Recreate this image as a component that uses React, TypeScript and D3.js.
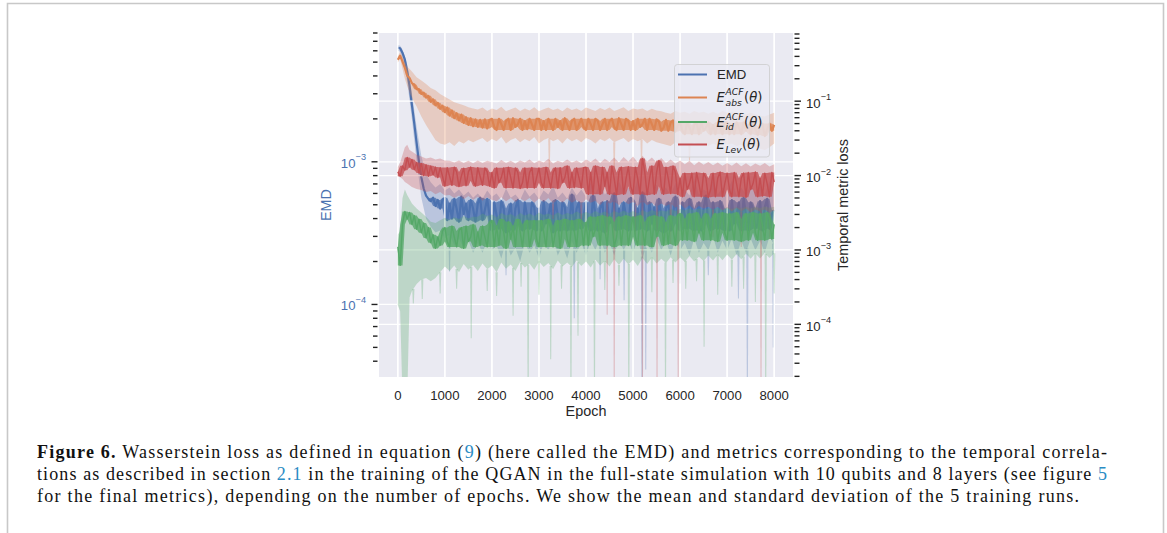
import React from 'react';
import * as d3 from 'd3';

// ---------- data ----------
// sampling grid of the std bands
const epochs = [
  0, 50, 100, 150, 200, 250, 300, 400, 500, 600,
  700, 800, 900, 1000, 1100, 1200, 1300, 1400, 1500, 1600,
  1700, 1800, 1900, 2000, 2100, 2200, 2300, 2400, 2500, 2600,
  2700, 2800, 2900, 3000, 3100, 3200, 3300, 3400, 3500, 3600,
  3700, 3800, 3900, 4000, 4100, 4200, 4300, 4400, 4500, 4600,
  4700, 4800, 4900, 5000, 5100, 5200, 5300, 5400, 5500, 5600,
  5700, 5800, 5900, 6000, 6100, 6200, 6300, 6400, 6500, 6600,
  6700, 6800, 6900, 7000, 7100, 7200, 7300, 7400, 7500, 7600,
  7700, 7800, 7900, 8000,
];
// sampling grid of the (noisy) mean traces
const traceEpochs = [
  0, 50, 100, 150, 200, 250, 300, 350, 400, 450, 500, 550, 600, 650, 700, 750, 800, 850, 900, 950,
  1000, 1050, 1100, 1150, 1200, 1250, 1300, 1350, 1400, 1450, 1500, 1550, 1600, 1650, 1700, 1750, 1800, 1850, 1900, 1950,
  2000, 2050, 2100, 2150, 2200, 2250, 2300, 2350, 2400, 2450, 2500, 2550, 2600, 2650, 2700, 2750, 2800, 2850, 2900, 2950,
  3000, 3050, 3100, 3150, 3200, 3250, 3300, 3350, 3400, 3450, 3500, 3550, 3600, 3650, 3700, 3750, 3800, 3850, 3900, 3950,
  4000, 4050, 4100, 4150, 4200, 4250, 4300, 4350, 4400, 4450, 4500, 4550, 4600, 4650, 4700, 4750, 4800, 4850, 4900, 4950,
  5000, 5050, 5100, 5150, 5200, 5250, 5300, 5350, 5400, 5450, 5500, 5550, 5600, 5650, 5700, 5750, 5800, 5850, 5900, 5950,
  6000, 6050, 6100, 6150, 6200, 6250, 6300, 6350, 6400, 6450, 6500, 6550, 6600, 6650, 6700, 6750, 6800, 6850, 6900, 6950,
  7000, 7050, 7100, 7150, 7200, 7250, 7300, 7350, 7400, 7450, 7500, 7550, 7600, 7650, 7700, 7750, 7800, 7850, 7900, 7950,
  8000,
];

// ----- EMD (left axis) -----
const emdTrace = [
  6.3e-3, 6.25e-3, 5.8e-3, 5.2e-3, 4.3e-3, 3.4e-3, 2.5e-3, 1.85e-3, 1.35e-3, 1.0e-3, 7.8e-4, 6.5e-4, 5.8e-4, 5.5e-4, 5.3e-4, 5.6e-4, 4.9e-4, 5.4e-4, 4.7e-4, 5.4e-4,
  5.6e-4, 3.9e-4, 5.1e-4, 4.0e-4, 5.5e-4, 4.7e-4, 3.8e-4, 5.7e-4, 4.3e-4, 5.1e-4, 3.9e-4, 5.4e-4, 4.7e-4, 3.8e-4, 5.1e-4, 5.6e-4, 3.9e-4, 4.6e-4, 5.5e-4, 4.2e-4,
  3.3e-4, 5.2e-4, 4.2e-4, 3.4e-4, 5.3e-4, 4.7e-4, 3.2e-4, 4.2e-4, 5.1e-4, 3.3e-4, 4.7e-4, 5.4e-4, 3.7e-4, 3.3e-4, 5.2e-4, 4.1e-4, 3.4e-4, 5.2e-4, 4.8e-4, 3.3e-4,
  4.7e-4, 3.3e-4, 5.3e-4, 3.7e-4, 4.2e-4, 5.1e-4, 3.2e-4, 5.4e-4, 4.2e-4, 3.3e-4, 5.2e-4, 4.8e-4, 3.3e-4, 3.7e-4, 5.9e-4, 3.3e-4, 4.7e-4, 5.2e-4, 3.4e-4, 4.2e-4,
  5.2e-4, 3.7e-4, 3.3e-4, 5.8e-4, 4.2e-4, 3.3e-4, 4.7e-4, 5.2e-4, 3.2e-4, 5.3e-4, 3.7e-4, 4.2e-4, 6.0e-4, 3.3e-4, 4.7e-4, 3.4e-4, 5.2e-4, 4.2e-4, 3.3e-4, 5.6e-4,
  5.3e-4, 3.3e-4, 4.7e-4, 3.4e-4, 6.1e-4, 4.2e-4, 3.3e-4, 5.2e-4, 3.7e-4, 4.8e-4, 3.3e-4, 5.5e-4, 4.2e-4, 3.2e-4, 4.7e-4, 5.2e-4, 3.3e-4, 4.2e-4, 5.7e-4, 3.7e-4,
  3.3e-4, 5.2e-4, 4.2e-4, 3.4e-4, 5.5e-4, 4.7e-4, 3.3e-4, 4.2e-4, 5.2e-4, 3.3e-4, 4.7e-4, 5.8e-4, 3.7e-4, 3.3e-4, 5.2e-4, 4.2e-4, 3.4e-4, 5.3e-4, 4.7e-4, 3.3e-4,
  4.7e-4, 3.3e-4, 5.4e-4, 3.7e-4, 4.2e-4, 5.2e-4, 3.3e-4, 5.6e-4, 4.2e-4, 3.3e-4, 5.2e-4, 4.7e-4, 3.4e-4, 3.7e-4, 5.3e-4, 3.3e-4, 4.8e-4, 5.5e-4, 3.4e-4, 4.3e-4,
  4.6e-4,
];
const emdHi = [
  6.6e-3, 6.5e-3, 6.1e-3, 5.5e-3, 4.8e-3, 3.9e-3, 3.0e-3, 1.75e-3, 1.1e-3, 8.2e-4,
  7.2e-4, 6.6e-4, 7.0e-4, 6.3e-4, 6.6e-4, 6.0e-4, 6.4e-4, 5.8e-4, 6.2e-4, 5.6e-4,
  6.0e-4, 5.5e-4, 6.3e-4, 5.7e-4, 6.0e-4, 5.4e-4, 6.5e-4, 5.6e-4, 5.9e-4, 5.4e-4,
  6.4e-4, 5.7e-4, 6.1e-4, 5.5e-4, 6.3e-4, 5.9e-4, 6.8e-4, 5.6e-4, 6.1e-4, 5.5e-4,
  6.6e-4, 5.8e-4, 6.4e-4, 5.7e-4, 7.2e-4, 6.0e-4, 7.0e-4, 5.9e-4, 6.4e-4, 5.7e-4,
  7.3e-4, 6.1e-4, 6.6e-4, 5.9e-4, 7.6e-4, 5.6e-4, 6.4e-4, 5.9e-4, 6.9e-4, 6.1e-4,
  6.6e-4, 5.8e-4, 7.1e-4, 6.1e-4, 6.4e-4, 5.8e-4, 7.6e-4, 5.9e-4, 6.4e-4, 6.1e-4,
  7.5e-4, 5.9e-4, 6.6e-4, 6.1e-4, 7.4e-4, 5.8e-4, 6.6e-4, 5.9e-4, 6.9e-4, 6.1e-4,
  6.8e-4, 5.9e-4, 7.3e-4, 6.4e-4,
];
const emdLo = [
  6.0e-3, 5.9e-3, 5.3e-3, 4.5e-3, 3.6e-3, 2.7e-3, 2.0e-3, 1.0e-3, 5.6e-4, 4.0e-4,
  3.5e-4, 3.2e-4, 3.3e-4, 2.9e-4, 3.1e-4, 2.6e-4, 2.9e-4, 2.5e-4, 2.8e-4, 2.3e-4,
  2.7e-4, 2.3e-4, 2.8e-4, 2.4e-4, 2.6e-4, 2.1e-4, 2.8e-4, 2.2e-4, 2.5e-4, 2.0e-4,
  2.7e-4, 2.3e-4, 2.6e-4, 2.1e-4, 2.7e-4, 2.4e-4, 2.9e-4, 2.2e-4, 2.6e-4, 2.1e-4,
  2.8e-4, 2.3e-4, 2.7e-4, 2.2e-4, 2.8e-4, 2.4e-4, 3.0e-4, 2.3e-4, 2.7e-4, 2.2e-4,
  2.9e-4, 2.4e-4, 2.8e-4, 2.3e-4, 2.9e-4, 2.1e-4, 2.7e-4, 2.3e-4, 2.9e-4, 2.4e-4,
  2.8e-4, 2.2e-4, 2.9e-4, 2.4e-4, 2.7e-4, 2.2e-4, 2.9e-4, 2.3e-4, 2.7e-4, 2.4e-4,
  3.0e-4, 2.3e-4, 2.8e-4, 2.4e-4, 2.9e-4, 2.2e-4, 2.8e-4, 2.3e-4, 2.9e-4, 2.4e-4,
  2.8e-4, 2.3e-4, 3.0e-4, 2.6e-4,
];
const emdSpikes = [
  [1100, 1.7e-4], [2300, 1.6e-4], [3750, 8e-5], [4300, 1.5e-4], [4810, 1.07e-4],
  [5190, 1e-6], [5270, 3.5e-5], [6000, 1.4e-4], [6600, 1.6e-4], [7240, 1.1e-4],
  [7430, 1e-6], [7980, 5e-5],
];

// ----- E_abs^ACF (right axis) -----
const absTrace = [
  0.36, 0.41, 0.34, 0.28, 0.22, 0.205, 0.175, 0.165, 0.145, 0.145, 0.125, 0.13, 0.112, 0.118, 0.098, 0.106, 0.088, 0.095, 0.079, 0.087,
  0.071, 0.082, 0.064, 0.075, 0.059, 0.069, 0.055, 0.066, 0.051, 0.061, 0.048, 0.059, 0.046, 0.057, 0.045, 0.056, 0.044, 0.057, 0.043, 0.056,
  0.058, 0.045, 0.041, 0.058, 0.049, 0.041, 0.054, 0.058, 0.041, 0.059, 0.045, 0.049, 0.058, 0.041, 0.054, 0.042, 0.058, 0.049, 0.041, 0.058,
  0.058, 0.041, 0.054, 0.041, 0.058, 0.049, 0.041, 0.058, 0.045, 0.054, 0.041, 0.059, 0.049, 0.041, 0.054, 0.058, 0.041, 0.049, 0.058, 0.045,
  0.041, 0.058, 0.049, 0.041, 0.058, 0.054, 0.041, 0.049, 0.058, 0.041, 0.054, 0.058, 0.045, 0.041, 0.059, 0.049, 0.041, 0.058, 0.054, 0.041,
  0.054, 0.041, 0.058, 0.045, 0.049, 0.058, 0.041, 0.058, 0.049, 0.041, 0.057, 0.053, 0.040, 0.044, 0.056, 0.040, 0.052, 0.055, 0.039, 0.047,
  0.052, 0.040, 0.036, 0.052, 0.044, 0.036, 0.048, 0.052, 0.036, 0.052, 0.040, 0.044, 0.052, 0.036, 0.048, 0.036, 0.052, 0.044, 0.036, 0.052,
  0.052, 0.036, 0.048, 0.036, 0.052, 0.044, 0.036, 0.052, 0.040, 0.048, 0.036, 0.050, 0.042, 0.035, 0.046, 0.050, 0.034, 0.042, 0.050, 0.040,
  0.048,
];
const absHi = [
  0.40, 0.46, 0.40, 0.33, 0.29, 0.27, 0.25, 0.21, 0.19, 0.17,
  0.15, 0.14, 0.125, 0.115, 0.105, 0.097, 0.092, 0.088, 0.083, 0.080,
  0.077, 0.082, 0.074, 0.080, 0.076, 0.084, 0.073, 0.078, 0.082, 0.074,
  0.080, 0.075, 0.083, 0.073, 0.078, 0.082, 0.076, 0.080, 0.073, 0.082,
  0.076, 0.080, 0.074, 0.082, 0.078, 0.074, 0.081, 0.076, 0.082, 0.074,
  0.078, 0.083, 0.074, 0.080, 0.077, 0.080, 0.074, 0.079, 0.075, 0.073,
  0.070, 0.068, 0.074, 0.070, 0.072, 0.068, 0.074, 0.070, 0.072, 0.068,
  0.072, 0.068, 0.074, 0.070, 0.072, 0.068, 0.070, 0.066, 0.070, 0.066,
  0.064, 0.062, 0.066, 0.070,
];
const absLo = [
  0.33, 0.37, 0.27, 0.20, 0.16, 0.13, 0.11, 0.085, 0.062, 0.048,
  0.038, 0.030, 0.027, 0.026, 0.028, 0.025, 0.029, 0.027, 0.030, 0.028,
  0.030, 0.032, 0.028, 0.031, 0.029, 0.033, 0.027, 0.030, 0.032, 0.028,
  0.031, 0.029, 0.033, 0.027, 0.030, 0.032, 0.029, 0.031, 0.027, 0.032,
  0.029, 0.031, 0.028, 0.032, 0.030, 0.027, 0.031, 0.029, 0.032, 0.028,
  0.030, 0.032, 0.028, 0.031, 0.029, 0.031, 0.027, 0.030, 0.028, 0.027,
  0.026, 0.025, 0.028, 0.026, 0.027, 0.025, 0.028, 0.026, 0.027, 0.025,
  0.027, 0.025, 0.028, 0.026, 0.027, 0.025, 0.026, 0.024, 0.026, 0.024,
  0.023, 0.022, 0.024, 0.027,
];
const absSpikes = [[3220, 0.012], [4600, 0.011], [5180, 0.014], [6200, 0.016]];

// ----- E_id^ACF (right axis) -----
const idTrace = [
  1.1e-3, 6.2e-4, 2.2e-3, 3.3e-3, 2.6e-3, 3.2e-3, 2.2e-3, 2.9e-3, 1.9e-3, 2.6e-3, 1.7e-3, 2.3e-3, 1.45e-3, 2.0e-3, 1.25e-3, 1.6e-3, 1.05e-3, 1.5e-3, 1.15e-3, 1.8e-3,
  2.0e-3, 1.3e-3, 1.1e-3, 2.1e-3, 1.5e-3, 1.1e-3, 1.8e-3, 2.0e-3, 1.05e-3, 2.1e-3, 1.3e-3, 1.5e-3, 2.2e-3, 1.1e-3, 1.75e-3, 1.15e-3, 2.1e-3, 1.5e-3, 1.1e-3, 2.2e-3,
  2.5e-3, 1.1e-3, 2.1e-3, 1.15e-3, 2.6e-3, 1.75e-3, 1.05e-3, 2.4e-3, 1.4e-3, 2.1e-3, 1.1e-3, 2.6e-3, 1.75e-3, 1.1e-3, 2.2e-3, 2.5e-3, 1.1e-3, 1.7e-3, 2.5e-3, 1.4e-3,
  1.1e-3, 2.5e-3, 1.75e-3, 1.1e-3, 2.6e-3, 2.1e-3, 1.1e-3, 1.75e-3, 2.5e-3, 1.05e-3, 2.1e-3, 2.6e-3, 1.4e-3, 1.1e-3, 2.5e-3, 1.8e-3, 1.1e-3, 2.6e-3, 2.1e-3, 1.15e-3,
  2.35e-3, 1.15e-3, 2.8e-3, 1.5e-3, 1.9e-3, 2.8e-3, 1.15e-3, 2.9e-3, 1.9e-3, 1.15e-3, 2.8e-3, 2.35e-3, 1.1e-3, 1.5e-3, 2.8e-3, 1.15e-3, 2.35e-3, 2.9e-3, 1.15e-3, 1.9e-3,
  2.8e-3, 1.5e-3, 1.15e-3, 2.9e-3, 1.9e-3, 1.15e-3, 2.35e-3, 2.8e-3, 1.1e-3, 2.9e-3, 1.5e-3, 1.9e-3, 2.8e-3, 1.15e-3, 2.35e-3, 1.2e-3, 2.9e-3, 1.9e-3, 1.15e-3, 2.8e-3,
  3.1e-3, 1.35e-3, 2.6e-3, 1.35e-3, 3.1e-3, 2.15e-3, 1.3e-3, 3.2e-3, 1.7e-3, 2.6e-3, 1.35e-3, 3.1e-3, 2.15e-3, 1.35e-3, 2.6e-3, 3.1e-3, 1.3e-3, 2.15e-3, 3.2e-3, 1.7e-3,
  1.35e-3, 3.1e-3, 2.15e-3, 1.35e-3, 3.2e-3, 2.6e-3, 1.3e-3, 2.15e-3, 3.1e-3, 1.35e-3, 2.6e-3, 3.2e-3, 1.7e-3, 1.35e-3, 3.1e-3, 2.15e-3, 1.35e-3, 3.2e-3, 2.6e-3, 1.4e-3,
  2.2e-3,
];
const idHi = [
  1.6e-3, 1.8e-3, 5.0e-3, 6.5e-3, 5.5e-3, 4.8e-3, 4.2e-3, 3.6e-3, 3.2e-3, 2.8e-3,
  2.4e-3, 2.3e-3, 2.5e-3, 2.7e-3, 2.55e-3, 2.75e-3, 2.6e-3, 2.85e-3, 2.65e-3, 2.8e-3,
  2.8e-3, 3.1e-3, 2.85e-3, 3.0e-3, 2.75e-3, 3.15e-3, 2.9e-3, 3.05e-3, 2.8e-3, 3.15e-3,
  2.9e-3, 3.1e-3, 2.85e-3, 3.2e-3, 2.95e-3, 3.1e-3, 2.9e-3, 3.2e-3, 2.95e-3, 3.15e-3,
  3.0e-3, 3.3e-3, 3.05e-3, 3.25e-3, 3.05e-3, 3.35e-3, 3.1e-3, 3.3e-3, 3.05e-3, 3.35e-3,
  3.15e-3, 3.4e-3, 3.15e-3, 3.35e-3, 3.1e-3, 3.45e-3, 3.2e-3, 3.45e-3, 3.25e-3, 3.4e-3,
  3.3e-3, 3.55e-3, 3.35e-3, 3.55e-3, 3.4e-3, 3.6e-3, 3.4e-3, 3.6e-3, 3.45e-3, 3.65e-3,
  3.5e-3, 3.7e-3, 3.5e-3, 3.75e-3, 3.55e-3, 3.75e-3, 3.6e-3, 3.8e-3, 3.6e-3, 3.8e-3,
  3.65e-3, 3.85e-3, 3.7e-3, 3.8e-3,
];
const idLo = [
  1.8e-4, 1.5e-4, 1e-5, 1e-5, 1e-5, 2.3e-4, 2.8e-4, 3.5e-4, 4.0e-4, 4.2e-4,
  3.8e-4, 4.2e-4, 5.0e-4, 6.0e-4, 5.2e-4, 6.2e-4, 5.0e-4, 6.5e-4, 5.4e-4, 6.3e-4,
  5.2e-4, 6.6e-4, 5.5e-4, 6.2e-4, 5.0e-4, 6.8e-4, 5.6e-4, 6.4e-4, 5.2e-4, 6.9e-4,
  5.8e-4, 6.6e-4, 5.4e-4, 7.0e-4, 5.9e-4, 6.7e-4, 5.5e-4, 7.2e-4, 6.0e-4, 6.8e-4,
  5.9e-4, 7.2e-4, 6.1e-4, 7.0e-4, 5.8e-4, 7.4e-4, 6.2e-4, 7.1e-4, 6.0e-4, 7.5e-4,
  6.3e-4, 7.6e-4, 6.4e-4, 7.4e-4, 6.1e-4, 7.8e-4, 6.5e-4, 7.9e-4, 6.6e-4, 7.6e-4,
  6.7e-4, 8.0e-4, 6.8e-4, 7.9e-4, 6.9e-4, 8.3e-4, 7.0e-4, 8.1e-4, 7.1e-4, 8.4e-4,
  7.2e-4, 8.6e-4, 7.3e-4, 8.7e-4, 7.4e-4, 8.8e-4, 7.5e-4, 8.9e-4, 7.6e-4, 9.0e-4,
  7.7e-4, 9.1e-4, 7.8e-4, 9.0e-4,
];
const idSpikes = [
  [330, 1.9e-4], [520, 2.2e-4], [900, 2.6e-4], [1250, 3.0e-4], [1560, 6.5e-5],
  [1900, 2.8e-4], [2100, 2.4e-4], [2450, 1.3e-4], [2620, 3.2e-4], [2770, 1e-6],
  [3000, 2.5e-4], [3250, 3.4e-5], [3480, 3.0e-4], [3680, 1e-6], [3830, 7e-5],
  [4180, 1e-6], [4400, 2.9e-4], [4700, 3.3e-4], [4910, 1e-6], [5400, 2.7e-4],
  [5690, 1e-6], [5850, 3.6e-4], [6120, 3.0e-4], [6350, 3.8e-4], [6510, 5e-5],
  [6800, 2.5e-4], [7100, 3.2e-4], [7350, 3.0e-4], [7600, 2.0e-4], [7820, 1e-6],
  [8000, 2.6e-4],
];

// ----- E_Lev (right axis) -----
const levTrace = [
  0.0112, 0.0098, 0.0135, 0.0118, 0.0175, 0.0130, 0.0165, 0.0120, 0.0150, 0.0108, 0.0146, 0.0100, 0.0140, 0.0098, 0.0135, 0.0102, 0.0130, 0.0094, 0.0128, 0.0098,
  0.0072, 0.0128, 0.0098, 0.0074, 0.0130, 0.0112, 0.0071, 0.0098, 0.0126, 0.0073, 0.0112, 0.0130, 0.0085, 0.0072, 0.0128, 0.0097, 0.0074, 0.0127, 0.0112, 0.0072,
  0.0110, 0.0068, 0.0127, 0.0080, 0.0094, 0.0127, 0.0068, 0.0130, 0.0094, 0.0068, 0.0127, 0.0110, 0.0067, 0.0080, 0.0127, 0.0068, 0.0110, 0.0128, 0.0068, 0.0094,
  0.0127, 0.0080, 0.0068, 0.0130, 0.0094, 0.0068, 0.0110, 0.0127, 0.0067, 0.0128, 0.0080, 0.0094, 0.0135, 0.0068, 0.0110, 0.0069, 0.0127, 0.0094, 0.0068, 0.0128,
  0.0130, 0.0056, 0.0110, 0.0056, 0.0135, 0.0090, 0.0056, 0.0130, 0.0072, 0.0110, 0.0056, 0.0135, 0.0090, 0.0055, 0.0110, 0.0130, 0.0056, 0.0090, 0.0132, 0.0072,
  0.0056, 0.0130, 0.0090, 0.0056, 0.0170, 0.0110, 0.0055, 0.0090, 0.0135, 0.0056, 0.0110, 0.0160, 0.0072, 0.0056, 0.0130, 0.0090, 0.0057, 0.0135, 0.0110, 0.0056,
  0.0092, 0.0052, 0.0108, 0.0065, 0.0078, 0.0108, 0.0052, 0.0110, 0.0078, 0.0052, 0.0108, 0.0092, 0.0051, 0.0065, 0.0108, 0.0052, 0.0092, 0.0112, 0.0052, 0.0078,
  0.0108, 0.0065, 0.0052, 0.0110, 0.0078, 0.0052, 0.0092, 0.0108, 0.0051, 0.0110, 0.0065, 0.0078, 0.0112, 0.0052, 0.0092, 0.0053, 0.0108, 0.0078, 0.0052, 0.0110,
  0.0082,
];
const levHi = [
  0.0130, 0.0150, 0.0190, 0.0240, 0.0260, 0.0220, 0.0210, 0.0190, 0.0180, 0.0170,
  0.0175, 0.0165, 0.0170, 0.0160, 0.0158, 0.0150, 0.0160, 0.0148, 0.0158, 0.0146,
  0.0160, 0.0148, 0.0158, 0.0152, 0.0145, 0.0162, 0.0148, 0.0158, 0.0145, 0.0160,
  0.0150, 0.0165, 0.0146, 0.0160, 0.0150, 0.0168, 0.0145, 0.0158, 0.0150, 0.0165,
  0.0150, 0.0160, 0.0146, 0.0165, 0.0152, 0.0170, 0.0148, 0.0168, 0.0152, 0.0175,
  0.0150, 0.0178, 0.0155, 0.0180, 0.0150, 0.0185, 0.0155, 0.0175, 0.0150, 0.0172,
  0.0148, 0.0165, 0.0145, 0.0160, 0.0142, 0.0158, 0.0138, 0.0155, 0.0140, 0.0152,
  0.0138, 0.0150, 0.0136, 0.0148, 0.0135, 0.0150, 0.0133, 0.0146, 0.0132, 0.0145,
  0.0135, 0.0148, 0.0132, 0.0142,
];
const levLo = [
  0.0098, 0.0095, 0.0090, 0.0082, 0.0078, 0.0074, 0.0070, 0.0066, 0.0064, 0.0060,
  0.0062, 0.0056, 0.0060, 0.0054, 0.0055, 0.0050, 0.0054, 0.0048, 0.0053, 0.0047,
  0.0052, 0.0046, 0.0051, 0.0047, 0.0045, 0.0051, 0.0045, 0.0050, 0.0044, 0.0049,
  0.0045, 0.0050, 0.0043, 0.0049, 0.0044, 0.0050, 0.0042, 0.0048, 0.0043, 0.0049,
  0.0043, 0.0047, 0.0041, 0.0048, 0.0043, 0.0046, 0.0040, 0.0047, 0.0042, 0.0045,
  0.0040, 0.0046, 0.0041, 0.0044, 0.0039, 0.0045, 0.0040, 0.0043, 0.0038, 0.0042,
  0.0039, 0.0042, 0.0037, 0.0041, 0.0036, 0.0040, 0.0035, 0.0039, 0.0036, 0.0038,
  0.0035, 0.0038, 0.0034, 0.0037, 0.0033, 0.0037, 0.0033, 0.0036, 0.0032, 0.0035,
  0.0033, 0.0035, 0.0032, 0.0034,
];
const levSpikes = [
  [3300, 2.6e-3], [3900, 2.2e-3], [4450, 1.35e-4], [4600, 1e-6], [5050, 1.6e-3],
  [5200, 1e-6], [5510, 1e-6], [5800, 1.2e-3], [5960, 1e-6], [6700, 1.5e-3],
  [7300, 1.1e-3], [7720, 1e-6], [7900, 1.4e-3],
];

const xTicks = [0, 1000, 2000, 3000, 4000, 5000, 6000, 7000, 8000];
const leftMajor = [1e-4, 1e-3];
const rightMajor = [1e-4, 1e-3, 1e-2, 1e-1];
const leftExp = ['\u22124', '\u22123'];
const rightExp = ['\u22124', '\u22123', '\u22122', '\u22121'];

const C = { blue: '#4c72b0', orange: '#dd8452', green: '#55a868', red: '#c44e52' };

export default function App() {
  const W = 1167, H = 533;
  const P = { l: 379, r: 793, t: 33, b: 377 };
  const x = d3.scaleLinear().domain([-400, 8400]).range([P.l, P.r]);
  const yL = d3.scaleLog().domain([3.1e-5, 8e-3]).range([P.b, P.t]);
  const yR = d3.scaleLog().domain([1.96e-5, 0.825]).range([P.b, P.t]);

  const lineFn = (ys: any, vals: number[]) =>
    d3.line<number>().x((_, i) => x(traceEpochs[i])).y((v) => ys(v))(vals) || '';
  // extent that a dense noisy trace covers around each sample (neighbours included)
  const envFn = (ys: any, vals: number[], start: number) => {
    const win = (i: number) => vals.slice(Math.max(start, i - 1), Math.min(vals.length, i + 2));
    return d3.area<number>()
      .defined((_, i) => i >= start)
      .x((_, i) => x(traceEpochs[i]))
      .y0((_, i) => ys(d3.min(win(i)) as number))
      .y1((_, i) => ys(d3.max(win(i)) as number))(vals) || '';
  };
  const areaFn = (ys: any, lo: number[], hi: number[]) =>
    d3.area<number>().x((_, i) => x(epochs[i])).y0((_, i) => Math.min(ys(lo[i]), P.b + 50)).y1((_, i) => ys(hi[i]))(lo) || '';

  const spikeLines = (ys: any, lo: number[], spikes: number[][], color: string, key: string) =>
    spikes.map(([e, v], k) => {
      const i = Math.max(0, Math.min(epochs.length - 2, d3.bisectRight(epochs, e) - 1));
      const t = (e - epochs[i]) / (epochs[i + 1] - epochs[i]);
      const y0 = ys(lo[i]) + t * (ys(lo[i + 1]) - ys(lo[i]));
      const y1 = Math.min(ys(v), P.b + 20);
      const xs = x(e);
      return (
        <path key={key + k} d={`M${xs - 1.1},${y0}L${xs + 1.1},${y0}L${xs + 0.5},${y1}L${xs - 0.5},${y1}Z`}
          fill={color} fillOpacity={0.3} />
      );
    });

  const logTicks = (lo: number, hi: number) => {
    const out: { v: number; major: boolean }[] = [];
    for (let e = -6; e <= 0; e++) {
      for (let m = 1; m <= 9; m++) {
        const v = m * Math.pow(10, e);
        if (v >= lo * 0.999 && v <= hi * 1.001) out.push({ v, major: m === 1 });
      }
    }
    return out;
  };
  const lTicks = logTicks(3.1e-5, 8e-3);
  const rTicks = logTicks(1.96e-5, 0.825);

  const grid = (hz: number[], ys: any, key: string) => (
    <g key={key}>
      {xTicks.map((t) => (
        <line key={'gx' + t} x1={x(t)} x2={x(t)} y1={P.t} y2={P.b} stroke="#fff" strokeWidth={1.3} />
      ))}
      {hz.map((t) => (
        <line key={'gy' + t} x1={P.l} x2={P.r} y1={ys(t)} y2={ys(t)} stroke="#fff" strokeWidth={1.3} />
      ))}
    </g>
  );

  const trace = (ys: any, vals: number[], color: string, start: number, lw: number) => (
    <g>
      <path d={envFn(ys, vals, start)} fill={color} fillOpacity={0.78} />
      <path d={lineFn(ys, vals)} fill="none" stroke={color} strokeWidth={lw} strokeLinejoin="round" />
    </g>
  );

  const sans = "'Liberation Sans', Arial, sans-serif";
  const math = "'DejaVu Sans', sans-serif";
  const serif = "'Liberation Serif', 'Times New Roman', serif";
  const txt = '#262626';
  const link = '#2b8cc4';

  const legY = [74.5, 97.5, 122, 144.5];

  return (
    <svg width={W} height={H} style={{ position: 'absolute', left: 0, top: 0, background: '#fff' }}>
      <defs>
        <clipPath id="plotclip">
          <rect x={P.l} y={P.t} width={P.r - P.l} height={P.b - P.t} />
        </clipPath>
      </defs>
      <rect x={0} y={0} width={W} height={H} fill="#fff" />
      <path d={`M7.5,${H}V3.5H1163.5V${H}`} fill="none" stroke="#c8c8c8" strokeWidth={1.6} />

      {/* plot background */}
      <rect x={P.l} y={P.t} width={P.r - P.l} height={P.b - P.t} fill="#eaeaf2" />

      <g clipPath="url(#plotclip)">
        {grid(leftMajor, yL, 'g1')}
        {/* EMD on left axis */}
        <path d={areaFn(yL, emdLo, emdHi)} fill={C.blue} fillOpacity={0.3} />
        {spikeLines(yL, emdLo, emdSpikes, C.blue, 'se')}
        {trace(yL, emdTrace, C.blue, 13, 2.2)}

        {grid(rightMajor, yR, 'g2')}
        {/* right-axis bands */}
        <path d={areaFn(yR, absLo, absHi)} fill={C.orange} fillOpacity={0.3} />
        {spikeLines(yR, absLo, absSpikes, C.orange, 'sa')}
        <path d={areaFn(yR, idLo, idHi)} fill={C.green} fillOpacity={0.3} />
        {spikeLines(yR, idLo, idSpikes, C.green, 'si')}
        <path d={areaFn(yR, levLo, levHi)} fill={C.red} fillOpacity={0.3} />
        {spikeLines(yR, levLo, levSpikes, C.red, 'sl')}
        {/* right-axis noisy mean traces */}
        {trace(yR, absTrace, C.orange, 6, 2.2)}
        {trace(yR, idTrace, C.green, 0, 1.4)}
        {trace(yR, levTrace, C.red, 0, 1.4)}
      </g>

      {/* left ticks */}
      {lTicks.map((t, i) => (
        <line key={'lt' + i} x1={t.major ? 371.5 : 373} x2={377.5} y1={yL(t.v)} y2={yL(t.v)} stroke="#222" strokeWidth={1.4} />
      ))}
      {leftMajor.map((t, i) => (
        <text key={'ll' + i} x={366} y={yL(t) + 6} textAnchor="end" fontFamily={sans} fontSize={13.2} fill={C.blue}>
          10<tspan fontSize={9.2} dy={-7.5}>{leftExp[i]}</tspan>
        </text>
      ))}
      {/* right ticks */}
      {rTicks.map((t, i) => (
        <line key={'rt' + i} x1={794.5} x2={t.major ? 801 : 799.5} y1={yR(t.v)} y2={yR(t.v)} stroke="#222" strokeWidth={1.4} />
      ))}
      {rightMajor.map((t, i) => (
        <text key={'rl' + i} x={806} y={yR(t) + 6.5} fontFamily={sans} fontSize={13.2} fill={txt}>
          10<tspan fontSize={9.2} dy={-7.5}>{rightExp[i]}</tspan>
        </text>
      ))}
      {/* x tick labels */}
      {xTicks.map((t) => (
        <text key={'xl' + t} x={x(t)} y={400} textAnchor="middle" fontFamily={sans} fontSize={13.2} fill={txt}>
          {t}
        </text>
      ))}
      <text x={(P.l + P.r) / 2} y={416} textAnchor="middle" fontFamily={sans} fontSize={14.4} fill={txt}>Epoch</text>
      <text x={326} y={205} transform="rotate(-90 326 205)" textAnchor="middle" dominantBaseline="central"
        fontFamily={sans} fontSize={14.4} fill={C.blue}>EMD</text>
      <text x={843} y={205} transform="rotate(-90 843 205)" textAnchor="middle" dominantBaseline="central"
        fontFamily={sans} fontSize={14.4} fill={txt}>Temporal metric loss</text>

      {/* legend */}
      <rect x={674.5} y={64.5} width={95} height={92.5} rx={3} fill="#eaeaf2" fillOpacity={0.8} stroke="#cccccc" strokeOpacity={0.8} />
      {[C.blue, C.orange, C.green, C.red].map((c, i) => (
        <line key={'lg' + i} x1={678} x2={707} y1={legY[i]} y2={legY[i]} stroke={c} strokeWidth={2} />
      ))}
      <text x={717} y={legY[0] + 4.8} fontFamily={sans} fontSize={13.2} fill={txt}>EMD</text>
      <g fontFamily={math} fill={txt}>
        <text x={716.5} y={legY[1] + 4.8} fontSize={13.2} fontStyle="italic">E</text>
        <text x={725.5} y={legY[1] - 2.5} fontSize={9.2} fontStyle="italic">ACF</text>
        <text x={725.5} y={legY[1] + 8} fontSize={9.2} fontStyle="italic">abs</text>
        <text x={744} y={legY[1] + 4.8} fontSize={13.2}>(<tspan fontStyle="italic">θ</tspan>)</text>

        <text x={716.5} y={legY[2] + 4.8} fontSize={13.2} fontStyle="italic">E</text>
        <text x={725.5} y={legY[2] - 2.5} fontSize={9.2} fontStyle="italic">ACF</text>
        <text x={725.5} y={legY[2] + 8} fontSize={9.2} fontStyle="italic">id</text>
        <text x={744} y={legY[2] + 4.8} fontSize={13.2}>(<tspan fontStyle="italic">θ</tspan>)</text>

        <text x={716.5} y={legY[3] + 4.8} fontSize={13.2} fontStyle="italic">E</text>
        <text x={725.5} y={legY[3] + 8} fontSize={9.2} fontStyle="italic">Lev</text>
        <text x={742} y={legY[3] + 4.8} fontSize={13.2}>(<tspan fontStyle="italic">θ</tspan>)</text>
      </g>

      {/* caption */}
      <g fontFamily={serif} fontSize={18} fill="#111">
        <text x={37} y={458} textLength={1070} lengthAdjust="spacing">
          <tspan fontWeight="bold">Figure 6.</tspan> Wasserstein loss as defined in equation (<tspan fill={link}>9</tspan>) (here called the EMD) and metrics corresponding to the temporal correla-
        </text>
        <text x={37} y={480} textLength={1070} lengthAdjust="spacing">
          tions as described in section <tspan fill={link}>2.1</tspan> in the training of the QGAN in the full-state simulation with 10 qubits and 8 layers (see figure <tspan fill={link}>5</tspan>
        </text>
        <text x={37} y={502} textLength={1042} lengthAdjust="spacing">
          for the final metrics), depending on the number of epochs. We show the mean and standard deviation of the 5 training runs.
        </text>
      </g>
    </svg>
  );
}
